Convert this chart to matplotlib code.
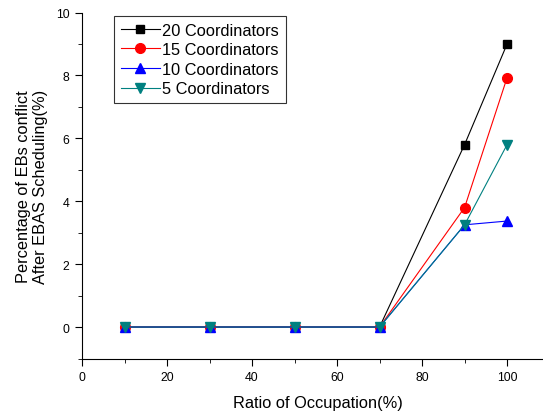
import matplotlib
matplotlib.use("Agg")
import matplotlib.pyplot as plt
from matplotlib.ticker import MultipleLocator

plt.rcParams['font.family'] = ['Liberation Sans', 'DejaVu Sans']

occupation = [10, 30, 50, 70, 90, 100]
c20 = [0, 0, 0, 0, 5.8, 9.0]
c15 = [0, 0, 0, 0, 3.8, 7.93]
c10 = [0, 0, 0, 0, 3.25, 3.37]
c5 = [0, 0, 0, 0, 3.25, 5.8]
labels = ['20 Coordinators', '15 Coordinators', '10 Coordinators', '5 Coordinators']

fig = plt.figure(figsize=(5.43, 4.14), dpi=100)
ax = fig.add_axes([82/543, 54.5/414, 1 - 82/543 + 0.02, 346/414])

ax.plot(occupation, c20, color='black', marker='s', ms=6.2, lw=0.8, label=labels[0])
ax.plot(occupation, c15, color='red', marker='o', ms=7, lw=0.8, label=labels[1])
ax.plot(occupation, c10, color='blue', marker='^', ms=7.5, lw=0.8, label=labels[2])
ax.plot(occupation, c5, color='#008080', marker='v', ms=7.5, lw=0.8, label=labels[3])

ax.set_xlim(0, 111)
ax.set_ylim(-1, 10)
ax.xaxis.set_major_locator(MultipleLocator(20))
ax.xaxis.set_minor_locator(MultipleLocator(10))
ax.yaxis.set_major_locator(MultipleLocator(2))
ax.yaxis.set_minor_locator(MultipleLocator(1))
ax.spines['top'].set_visible(False)
ax.spines['right'].set_visible(False)
ax.tick_params(which='major', direction='out', length=5, labelsize=8.8, pad=4)
ax.tick_params(which='minor', direction='out', length=3)
ax.set_xlabel('Ratio of Occupation(%)', fontsize=11.8, labelpad=9)
ax.set_ylabel('Percentage of EBs conflict\nAfter EBAS Scheduling(%)', fontsize=11.8,
              labelpad=6, linespacing=1.15)

leg = ax.legend(loc='upper left', bbox_to_anchor=(0.068, 0.99), fontsize=11.8, frameon=True,
                fancybox=False, edgecolor='black', borderpad=0.4, labelspacing=0.28,
                handlelength=2.4, handletextpad=0.15, borderaxespad=0.0)
leg.get_frame().set_linewidth(0.8)

fig.savefig('out.png', dpi=100)
